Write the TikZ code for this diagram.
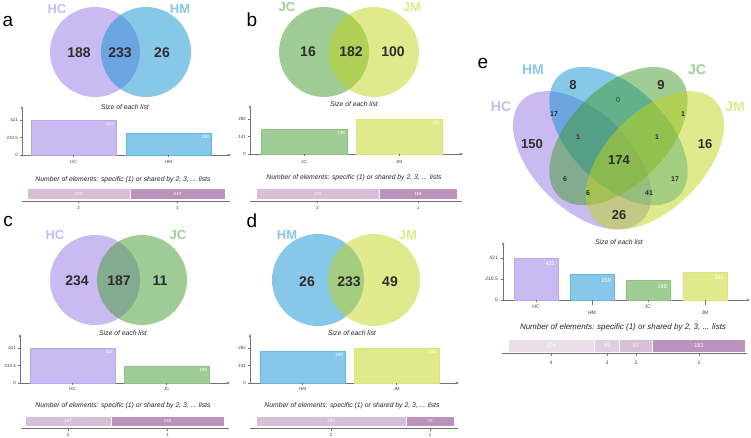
\documentclass[tikz,border=0pt]{standalone}
\usepackage{fontspec}
\setmainfont{Liberation Sans}
\usetikzlibrary{arrows.meta}

\definecolor{hc}{RGB}{148,120,230}
\definecolor{hm}{RGB}{15,145,209}
\definecolor{jc}{RGB}{65,155,45}
\definecolor{jm}{RGB}{193,213,25}
\definecolor{shone}{RGB}{187,146,187}
\definecolor{shtwo}{RGB}{215,191,215}
\definecolor{shthree}{RGB}{225,207,225}
\definecolor{shfour}{RGB}{235,222,235}
\definecolor{numgray}{RGB}{45,45,45}

\tikzset{
  panel/.style={font=\fontsize{19}{20}\selectfont},
  setname/.style={font=\bfseries\fontsize{13}{14}\selectfont},
  bignum/.style={font=\bfseries\fontsize{14}{15}\selectfont, text=numgray},
  smallnum/.style={font=\bfseries\fontsize{7}{8}\selectfont, text=numgray},
  caption/.style={font=\itshape\fontsize{6.8}{7.5}\selectfont, text=black!85},
  ticklab/.style={font=\fontsize{4.5}{5}\selectfont, text=black!75, inner sep=1pt},
  vallab/.style={font=\fontsize{4.5}{5}\selectfont, text=white, anchor=north east, inner sep=1pt},
  seglab/.style={font=\fontsize{4.5}{5}\selectfont, text=white, inner sep=0pt},
  axisline/.style={draw=black!55, line width=0.5pt},
  axisarrow/.style={axisline, -{Stealth[length=3.5pt,width=2.5pt]}},
  venn/.style={fill opacity=0.5},
  seg/.style={draw=white, line width=0.6pt},
}

\begin{document}
\begin{tikzpicture}[x=1pt, y=-1pt]
\useasboundingbox (0,0) rectangle (751,438);

% a: HC vs HM
\node[panel] (a-lab) at (8,21) {a};
\fill[venn, hc] (95,52) circle (45);
\fill[venn, hm] (146,52) circle (45);
\node[setname, text=hc!50] (a-hc) at (57,9) {HC};
\node[setname, text=hm!50] (a-hm) at (180,9) {HM};
\node[bignum] (a-n1) at (79,53) {188};
\node[bignum] (a-n2) at (120,53) {233};
\node[bignum] (a-n3) at (162,53) {26};
\node[caption] (a-size) at (125,107) {Size of each list};

\draw[axisarrow] (22,155) -- (22,106);
\draw[axisarrow] (22,155) -- (231,155);
\draw[axisline] (20,120) -- (22,120) (20,137.5) -- (22,137.5) (20,155) -- (22,155);
\node[ticklab, anchor=east] (a-t1) at (19,120) {421};
\node[ticklab, anchor=east] (a-t2) at (19,137.5) {210.5};
\node[ticklab, anchor=east] (a-t3) at (19,155) {0};
\filldraw[fill=hc!50, draw=hc!65] (31,120) rectangle (116,155);
\filldraw[fill=hm!50, draw=hm!65] (126,133.5) rectangle (211,155);
\node[vallab] (a-v1) at (115,121) {421};
\node[vallab] (a-v2) at (210,134.5) {259};
\draw[axisline] (73.5,155) -- (73.5,157) (168.5,155) -- (168.5,157);
\node[ticklab] (a-c1) at (73.5,162) {HC};
\node[ticklab] (a-c2) at (168.5,162) {HM};

\node[caption] (a-shared) at (123,180) {Number of elements: specific (1) or shared by 2, 3, ... lists};
\filldraw[seg, fill=shtwo] (27,188) rectangle (130,199);
\filldraw[seg, fill=shone] (130,188) rectangle (225,199);
\node[seglab] (a-s2) at (78.5,193.5) {233};
\node[seglab] (a-s1) at (177.5,193.5) {214};
\draw[axisline] (22,201) -- (230,201);
\draw[axisline] (78.5,201) -- (78.5,203.5) (177.5,201) -- (177.5,203.5);
\node[ticklab] (a-k2) at (78.5,208) {2};
\node[ticklab] (a-k1) at (177.5,208) {1};

% b: JC vs JM
\node[panel] (b-lab) at (252,20) {b};
\fill[venn, jc] (324,52) circle (45);
\fill[venn, jm] (374,52) circle (45);
\node[setname, text=jc!50] (b-jc) at (287,7) {JC};
\node[setname, text=jm!50] (b-jm) at (412,7) {JM};
\node[bignum] (b-n1) at (308,52) {16};
\node[bignum] (b-n2) at (351,52) {182};
\node[bignum] (b-n3) at (393,52) {100};
\node[caption] (b-size) at (354,104) {Size of each list};

\draw[axisarrow] (250,154) -- (250,105);
\draw[axisarrow] (250,154) -- (463,154);
\draw[axisline] (248,119) -- (250,119) (248,136.5) -- (250,136.5) (248,154) -- (250,154);
\node[ticklab, anchor=east] (b-t1) at (247,119) {282};
\node[ticklab, anchor=east] (b-t2) at (247,136.5) {141};
\node[ticklab, anchor=east] (b-t3) at (247,154) {0};
\filldraw[fill=jc!50, draw=jc!60] (261,129.4) rectangle (347,154);
\filldraw[fill=jm!50, draw=jm!60] (356,119) rectangle (442,154);
\node[vallab] (b-v1) at (346,130.4) {198};
\node[vallab] (b-v2) at (441,120) {282};
\draw[axisline] (304,154) -- (304,156) (399,154) -- (399,156);
\node[ticklab] (b-c1) at (304,162) {JC};
\node[ticklab] (b-c2) at (399,162) {JM};

\node[caption] (b-shared) at (354,178) {Number of elements: specific (1) or shared by 2, 3, ... lists};
\filldraw[seg, fill=shtwo] (256,188) rectangle (379,199);
\filldraw[seg, fill=shone] (379,188) rectangle (457,199);
\node[seglab] (b-s2) at (317.5,193.5) {182};
\node[seglab] (b-s1) at (418,193.5) {116};
\draw[axisline] (250,201) -- (462,201);
\draw[axisline] (317.5,201) -- (317.5,203.5) (418,201) -- (418,203.5);
\node[ticklab] (b-k2) at (317.5,208) {2};
\node[ticklab] (b-k1) at (418,208) {1};

% c: HC vs JC
\node[panel] (c-lab) at (8,221) {c};
\fill[venn, hc] (95,280) circle (45);
\fill[venn, jc] (142,280) circle (45);
\node[setname, text=hc!50] (c-hc) at (55,235) {HC};
\node[setname, text=jc!50] (c-jc) at (178,235) {JC};
\node[bignum] (c-n1) at (77,281) {234};
\node[bignum] (c-n2) at (119,281) {187};
\node[bignum] (c-n3) at (160,281) {11};
\node[caption] (c-size) at (123,333) {Size of each list};

\draw[axisarrow] (20,383) -- (20,334);
\draw[axisarrow] (20,383) -- (230,383);
\draw[axisline] (18,348) -- (20,348) (18,365.5) -- (20,365.5) (18,383) -- (20,383);
\node[ticklab, anchor=east] (c-t1) at (17,348) {421};
\node[ticklab, anchor=east] (c-t2) at (17,365.5) {210.5};
\node[ticklab, anchor=east] (c-t3) at (17,383) {0};
\filldraw[fill=hc!50, draw=hc!65] (30,348) rectangle (115,383);
\filldraw[fill=jc!50, draw=jc!60] (124,366.5) rectangle (209,383);
\node[vallab] (c-v1) at (114,349) {421};
\node[vallab] (c-v2) at (208,367.5) {198};
\draw[axisline] (72.5,383) -- (72.5,385) (166.5,383) -- (166.5,385);
\node[ticklab] (c-c1) at (72.5,389) {HC};
\node[ticklab] (c-c2) at (166.5,389) {JC};

\node[caption] (c-shared) at (123,406) {Number of elements: specific (1) or shared by 2, 3, ... lists};
\filldraw[seg, fill=shtwo] (25,416) rectangle (111,426);
\filldraw[seg, fill=shone] (111,416) rectangle (224,426);
\node[seglab] (c-s2) at (68,421) {187};
\node[seglab] (c-s1) at (167.5,421) {245};
\draw[axisline] (21,428) -- (229,428);
\draw[axisline] (68,428) -- (68,430.5) (167.5,428) -- (167.5,430.5);
\node[ticklab] (c-k2) at (68,435) {2};
\node[ticklab] (c-k1) at (167.5,435) {1};

% d: HM vs JM
\node[panel] (d-lab) at (252,221) {d};
\fill[venn, hm] (318,280) circle (46);
\fill[venn, jm] (374,280) circle (46);
\node[setname, text=hm!50] (d-hm) at (287,235) {HM};
\node[setname, text=jm!50] (d-jm) at (408,235) {JM};
\node[bignum] (d-n1) at (307,282) {26};
\node[bignum] (d-n2) at (349,282) {233};
\node[bignum] (d-n3) at (390,282) {49};
\node[caption] (d-size) at (352,333) {Size of each list};

\draw[axisarrow] (250,383) -- (250,334);
\draw[axisarrow] (250,383) -- (459,383);
\draw[axisline] (248,348) -- (250,348) (248,365.5) -- (250,365.5) (248,383) -- (250,383);
\node[ticklab, anchor=east] (d-t1) at (247,348) {282};
\node[ticklab, anchor=east] (d-t2) at (247,365.5) {141};
\node[ticklab, anchor=east] (d-t3) at (247,383) {0};
\filldraw[fill=hm!50, draw=hm!65] (260,351) rectangle (345,383);
\filldraw[fill=jm!50, draw=jm!60] (354,348) rectangle (439,383);
\node[vallab] (d-v1) at (344,352) {259};
\node[vallab] (d-v2) at (438,349) {282};
\draw[axisline] (302.5,383) -- (302.5,385) (396.5,383) -- (396.5,385);
\node[ticklab] (d-c1) at (302.5,389) {HM};
\node[ticklab] (d-c2) at (396.5,389) {JM};

\node[caption] (d-shared) at (352,406) {Number of elements: specific (1) or shared by 2, 3, ... lists};
\filldraw[seg, fill=shtwo] (256,416) rectangle (406,426);
\filldraw[seg, fill=shone] (406,416) rectangle (454,426);
\node[seglab] (d-s2) at (331,421) {233};
\node[seglab] (d-s1) at (430,421) {75};
\draw[axisline] (250,428) -- (458,428);
\draw[axisline] (331,428) -- (331,430.5) (430,428) -- (430,430.5);
\node[ticklab] (d-k2) at (331,435) {2};
\node[ticklab] (d-k1) at (430,435) {1};

% e: all four lists
\node[panel] (e-lab) at (483,63) {e};
\fill[venn, hc, rotate around={-45:(582.1,160.3)}] (582.1,160.3) ellipse [x radius=84.9, y radius=48.5];
\fill[venn, hm, rotate around={-45:(618.5,136.1)}] (618.5,136.1) ellipse [x radius=84.9, y radius=48.5];
\fill[venn, jc, rotate around={45:(618.5,136.1)}] (618.5,136.1) ellipse [x radius=84.9, y radius=48.5];
\fill[venn, jm, rotate around={45:(654.9,160.3)}] (654.9,160.3) ellipse [x radius=84.9, y radius=48.5];
\node[setname, text=hc!50, font=\bfseries\fontsize{14}{15}\selectfont] (e-hc) at (501,107) {HC};
\node[setname, text=hm!50, font=\bfseries\fontsize{14}{15}\selectfont] (e-hm) at (533,70) {HM};
\node[setname, text=jc!50, font=\bfseries\fontsize{14}{15}\selectfont] (e-jc) at (697,70) {JC};
\node[setname, text=jm!50, font=\bfseries\fontsize{14}{15}\selectfont] (e-jm) at (735,107) {JM};
\node[bignum, font=\bfseries\fontsize{13}{14}\selectfont] (e-hc1) at (532,144) {150};
\node[bignum, font=\bfseries\fontsize{13}{14}\selectfont] (e-hm1) at (573,85) {8};
\node[bignum, font=\bfseries\fontsize{13}{14}\selectfont] (e-jc1) at (661,85) {9};
\node[bignum, font=\bfseries\fontsize{13}{14}\selectfont] (e-jm1) at (705,144) {16};
\node[bignum, font=\bfseries\fontsize{13}{14}\selectfont] (e-all) at (619,160) {174};
\node[bignum, font=\bfseries\fontsize{13}{14}\selectfont] (e-hcjm) at (619,215) {26};
\node[smallnum, font=\fontsize{7}{8}\selectfont] (e-hmjc) at (618,100) {0};
\node[smallnum] (e-hchm) at (554,114) {17};
\node[smallnum] (e-jcjm) at (683,114) {1};
\node[smallnum] (e-hchmjc) at (578,137) {1};
\node[smallnum] (e-hmjcjm) at (657,137) {1};
\node[smallnum] (e-hcjc) at (565,179) {6};
\node[smallnum] (e-hmjm) at (675,179) {17};
\node[smallnum] (e-hcjcjm) at (588,193) {6};
\node[smallnum] (e-hchmjm) at (649,193) {41};
\node[caption] (e-size) at (619,242) {Size of each list};

\draw[axisarrow] (503,300) -- (503,242);
\draw[axisarrow] (503,300) -- (750,300);
\draw[axisline] (501,258) -- (503,258) (501,279) -- (503,279) (501,300) -- (503,300);
\node[ticklab, anchor=east, font=\fontsize{5}{6}\selectfont] (e-t1) at (499,258) {421};
\node[ticklab, anchor=east, font=\fontsize{5}{6}\selectfont] (e-t2) at (499,279) {210.5};
\node[ticklab, anchor=east, font=\fontsize{5}{6}\selectfont] (e-t3) at (499,300) {0};
\filldraw[fill=hc!50, draw=hc!65] (514,258) rectangle (558,300);
\filldraw[fill=hm!50, draw=hm!65] (570,274.2) rectangle (614,300);
\filldraw[fill=jc!50, draw=jc!60] (626,280.2) rectangle (670,300);
\filldraw[fill=jm!50, draw=jm!60] (683,271.9) rectangle (727,300);
\node[vallab, font=\fontsize{5.5}{6}\selectfont] (e-v1) at (556,260) {421};
\node[vallab, font=\fontsize{5.5}{6}\selectfont] (e-v2) at (612,277) {259};
\node[vallab, font=\fontsize{5.5}{6}\selectfont] (e-v3) at (668,283) {198};
\node[vallab, font=\fontsize{5.5}{6}\selectfont] (e-v4) at (725,274) {282};
\draw[axisline] (536,300) -- (536,302) (592,300) -- (592,305) (648,300) -- (648,302) (705,300) -- (705,305);
\node[ticklab, font=\fontsize{5}{6}\selectfont] (e-c1) at (536,307) {HC};
\node[ticklab, font=\fontsize{5}{6}\selectfont] (e-c2) at (592,313) {HM};
\node[ticklab, font=\fontsize{5}{6}\selectfont] (e-c3) at (648,307) {JC};
\node[ticklab, font=\fontsize{5}{6}\selectfont] (e-c4) at (705,313) {JM};

\node[caption, font=\itshape\fontsize{8}{9}\selectfont] (e-shared) at (623,327) {Number of elements: specific (1) or shared by 2, 3, ... lists};
\filldraw[seg, fill=shfour] (508,339) rectangle (594.5,352);
\filldraw[seg, fill=shthree] (594.5,339) rectangle (619,352);
\filldraw[seg, fill=shtwo] (619,339) rectangle (652.5,352);
\filldraw[seg, fill=shone] (652.5,339) rectangle (745,352);
\node[seglab, font=\fontsize{5.5}{6}\selectfont] (e-s4) at (551,345.5) {174};
\node[seglab, font=\fontsize{5.5}{6}\selectfont] (e-s3) at (607,345.5) {49};
\node[seglab, font=\fontsize{5.5}{6}\selectfont] (e-s2) at (636,345.5) {67};
\node[seglab, font=\fontsize{5.5}{6}\selectfont] (e-s1) at (699,345.5) {183};
\draw[axisline] (502,353.5) -- (747,353.5);
\draw[axisline] (551,353.5) -- (551,356) (607,353.5) -- (607,356) (636,353.5) -- (636,356) (699,353.5) -- (699,356);
\node[ticklab, font=\fontsize{5}{6}\selectfont] (e-k4) at (551,363) {4};
\node[ticklab, font=\fontsize{5}{6}\selectfont] (e-k3) at (607,363) {3};
\node[ticklab, font=\fontsize{5}{6}\selectfont] (e-k2) at (636,363) {2};
\node[ticklab, font=\fontsize{5}{6}\selectfont] (e-k1) at (699,363) {1};

\end{tikzpicture}
\end{document}
